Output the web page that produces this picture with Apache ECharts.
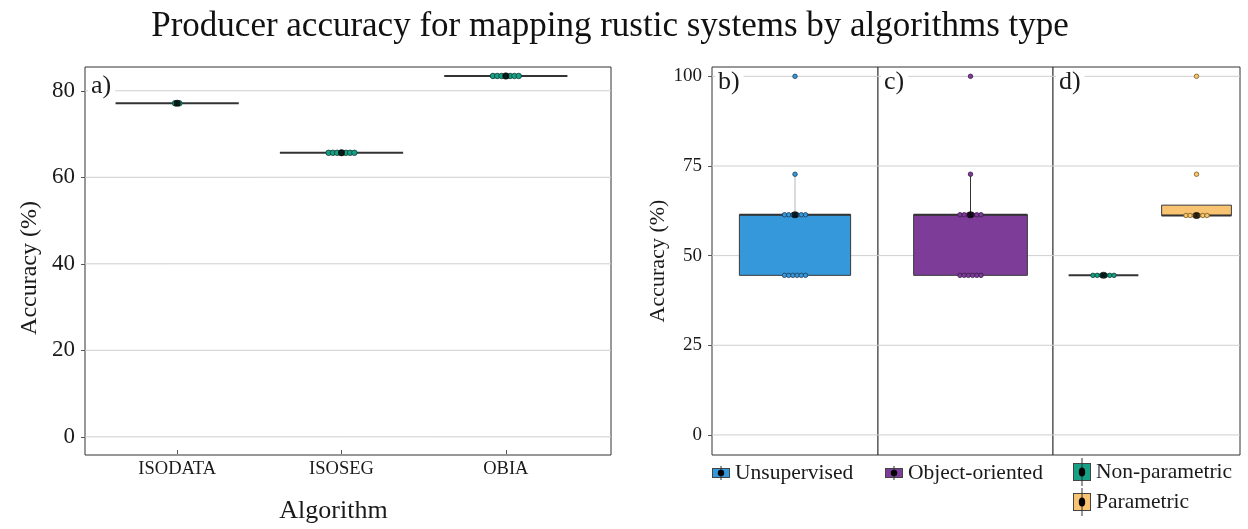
<!DOCTYPE html>
<html>
<head>
<meta charset="utf-8">
<script src="https://cdn.jsdelivr.net/npm/echarts@6/dist/echarts.min.js"></script>
<style>
  html, body { margin: 0; padding: 0; background: #fff; }
  #chart { width: 1248px; height: 529px; }
</style>
</head>
<body>
<div id="chart"></div>
<script>
// ---- data -------------------------------------------------------------
// Panel a: producer accuracy by algorithm
const algorithms = ['ISODATA', 'ISOSEG', 'OBIA'];
const isodataAcc = [77.0, 77.0];
const isosegAcc = [65.4, 65.4, 65.4, 65.4, 65.4, 65.4, 65.4];
const obiaAcc = [83.4, 83.4, 83.4, 83.4, 83.4, 83.4, 83.4];

// Panels b-d: producer accuracy by algorithm family
const unsupervisedAcc = [44.5, 44.5, 44.5, 44.5, 44.5, 44.5, 61.4, 61.4, 61.4, 61.4, 61.4, 61.4, 72.7, 100];
const objectOrientedAcc = [44.5, 44.5, 44.5, 44.5, 44.5, 44.5, 61.4, 61.4, 61.4, 61.4, 61.4, 61.4, 72.7, 100];
const nonParametricAcc = [44.5, 44.5, 44.5, 44.5, 44.5, 44.5];
const parametricAcc = [61.2, 61.2, 61.2, 61.2, 61.2, 61.2, 72.7, 100];

// Tick labels
const ticksLeft = [0, 20, 40, 60, 80];
const ticksRight = [0, 25, 50, 75, 100];

// ---- styling ------------------------------------------------------------
const FONT = '"Liberation Serif", "Times New Roman", serif';
const INK = '#1a1a1a';
const COLORS = {
  unsupervised: '#3498DB',
  objectOriented: '#7D3C98',
  nonParametric: '#16A085',
  parametric: '#F8C471'
};
const TOP = 67, HEIGHT = 388;

// ---- statistics ---------------------------------------------------------
function quantile(sorted, p) {
  const h = (sorted.length - 1) * p;
  const lo = Math.floor(h), hi = Math.ceil(h);
  return sorted[lo] + (h - lo) * (sorted[hi] - sorted[lo]);
}
function boxStats(vals) {
  const s = vals.slice().sort((a, b) => a - b);
  const q1 = quantile(s, 0.25), med = quantile(s, 0.5), q3 = quantile(s, 0.75);
  const iqr = q3 - q1;
  const lo = s.find(v => v >= q1 - 1.5 * iqr);
  const hi = s.slice().reverse().find(v => v <= q3 + 1.5 * iqr);
  return { lo, q1, med, q3, hi };
}
// Spread tied values side by side (beeswarm-like), offsets in pixels
function swarm(vals, cat, spacing) {
  const counts = {};
  vals.forEach(v => { counts[v] = (counts[v] || 0) + 1; });
  const seen = {};
  return vals.map(v => {
    seen[v] = seen[v] === undefined ? 0 : seen[v] + 1;
    const off = (seen[v] - (counts[v] - 1) / 2) * spacing;
    return { value: [cat, v], symbolOffset: [off, 0] };
  });
}

// ---- panel layout ---------------------------------------------------------
// frame = bordered plotting panel, inner = band area that holds the categories
const panels = [
  { label: 'a)', labelTop: 73, frame: [85, 526], inner: [95, 493], yMin: -4.2, yMax: 85.5, ticks: ticksLeft, axis: true, cats: algorithms },
  { label: 'b)', labelTop: 69, frame: [712, 166], inner: [712, 166], yMin: -5.6, yMax: 102.6, ticks: ticksRight, axis: true, cats: ['Unsupervised'] },
  { label: 'c)', labelTop: 69, frame: [878, 175], inner: [883, 175], yMin: -5.6, yMax: 102.6, ticks: ticksRight, axis: false, cats: ['Object-oriented'] },
  { label: 'd)', labelTop: 69, frame: [1053, 187], inner: [1057, 186], yMin: -5.6, yMax: 102.6, ticks: ticksRight, axis: false, cats: ['Non-parametric', 'Parametric'] }
];

const grid = [], xAxis = [], yAxis = [], series = [], titles = [];
panels.forEach((p, i) => {
  const fi = i * 2, di = i * 2 + 1;
  grid.push({ left: p.frame[0], top: TOP, width: p.frame[1], height: HEIGHT, show: true,
              borderColor: '#333', borderWidth: 1, backgroundColor: '#fff' });
  grid.push({ left: p.inner[0], top: TOP, width: p.inner[1], height: HEIGHT, show: false });

  xAxis.push({ gridIndex: fi, type: 'value', min: 0, max: 1, show: false });
  xAxis.push({
    gridIndex: di, type: 'category', data: p.cats, position: 'bottom',
    show: i === 0,
    axisLine: { show: false, onZero: false },
    axisTick: { show: i === 0, alignWithLabel: true, length: 4, lineStyle: { color: '#555' } },
    axisLabel: { show: i === 0, fontFamily: FONT, fontSize: 18.5, color: INK, margin: 10 },
    name: i === 0 ? 'Algorithm' : '', nameLocation: 'middle', nameGap: 48,
    nameTextStyle: { fontFamily: FONT, fontSize: 26, color: INK, padding: [0, 16, 0, 0] }
  });

  yAxis.push({
    gridIndex: fi, type: 'value', min: p.yMin, max: p.yMax,
    axisLine: { show: false },
    splitLine: { show: false },
    axisTick: { show: p.axis, customValues: p.ticks, length: 4, lineStyle: { color: '#555' } },
    axisLabel: { show: p.axis, customValues: p.ticks, fontFamily: FONT,
                 fontSize: i === 0 ? 23 : 19, color: INK, margin: 10 },
    name: p.axis ? 'Accuracy (%)' : '', nameLocation: 'middle', nameGap: i === 0 ? 43 : 41,
    nameTextStyle: { fontFamily: FONT, fontSize: i === 0 ? 24 : 22, color: INK,
                     padding: i === 0 ? [0, 14, 0, 0] : [0, 0, 0, 0] }
  });
  yAxis.push({ gridIndex: di, type: 'value', min: p.yMin, max: p.yMax, show: false });

  // horizontal reference lines across the whole panel
  series.push({
    type: 'custom', xAxisIndex: fi, yAxisIndex: fi, z: 1, silent: true,
    data: p.ticks.map(v => [0, v]),
    renderItem: (params, api) => {
      const y = api.coord([0, api.value(1)])[1];
      const cs = params.coordSys;
      return { type: 'line', shape: { x1: cs.x, y1: y, x2: cs.x + cs.width, y2: y },
               style: { stroke: '#cfcfcf', lineWidth: 1 } };
    }
  });

  titles.push({
    text: p.label, left: p.frame[0] + 3, top: p.labelTop, padding: [0, 4, 0, 3],
    backgroundColor: '#fff',
    textStyle: { fontFamily: FONT, fontSize: 26, fontWeight: 'normal', color: INK }
  });
});

// Box drawn ggplot-style: box, thick median, whisker lines without caps
function boxSeries(axisIdx, items, widthFrac, whiskerColor) {
  return {
    type: 'custom', xAxisIndex: axisIdx, yAxisIndex: axisIdx, z: 2, silent: true,
    encode: { x: 0, y: [1, 2, 3, 4, 5] },
    data: items.map(it => ({
      value: [it.cat, it.s.lo, it.s.q1, it.s.med, it.s.q3, it.s.hi],
      itemStyle: { color: it.color }
    })),
    renderItem: (params, api) => {
      const x = api.value(0);
      const bw = api.size([1, 0])[0] * widthFrac;
      const pLo = api.coord([x, api.value(1)]);
      const pQ1 = api.coord([x, api.value(2)]);
      const pMed = api.coord([x, api.value(3)]);
      const pQ3 = api.coord([x, api.value(4)]);
      const pHi = api.coord([x, api.value(5)]);
      const cx = pMed[0];
      const children = [];
      if (pHi[1] < pQ3[1] - 0.5) children.push({ type: 'line',
        shape: { x1: cx, y1: pHi[1], x2: cx, y2: pQ3[1] }, style: { stroke: whiskerColor, lineWidth: 1 } });
      if (pLo[1] > pQ1[1] + 0.5) children.push({ type: 'line',
        shape: { x1: cx, y1: pQ1[1], x2: cx, y2: pLo[1] }, style: { stroke: whiskerColor, lineWidth: 1 } });
      if (pQ1[1] - pQ3[1] > 0.5) children.push({ type: 'rect',
        shape: { x: cx - bw / 2, y: pQ3[1], width: bw, height: pQ1[1] - pQ3[1] },
        style: { fill: api.visual('color'), stroke: '#3a3a3a', lineWidth: 1 } });
      children.push({ type: 'line',
        shape: { x1: cx - bw / 2, y1: pMed[1], x2: cx + bw / 2, y2: pMed[1] },
        style: { stroke: '#333', lineWidth: 2 } });
      return { type: 'group', children };
    }
  };
}

function pointSeries(name, axisIdx, data, color, size, border) {
  return {
    name, type: 'scatter', xAxisIndex: axisIdx, yAxisIndex: axisIdx, z: 3, silent: true,
    symbol: 'circle', symbolSize: size, data,
    itemStyle: { color, borderColor: border, borderWidth: 0.8, opacity: 1 }
  };
}
function medianSeries(axisIdx, items) {
  return {
    type: 'scatter', xAxisIndex: axisIdx, yAxisIndex: axisIdx, z: 4, silent: true,
    symbol: 'circle', symbolSize: 7,
    data: items.map(it => [it.cat, boxStats(it.vals).med]),
    itemStyle: { color: '#000' }
  };
}

// panel a
const aItems = [isodataAcc, isosegAcc, obiaAcc].map((vals, k) => ({ cat: k, vals, s: boxStats(vals), color: COLORS.nonParametric }));
series.push(boxSeries(1, aItems, 0.75, '#333'));
series.push(pointSeries('Algorithm', 1,
  [].concat(...aItems.map(it => swarm(it.vals, it.cat, 4.3))), COLORS.nonParametric, 5.5, '#0b3b30'));
series.push(medianSeries(1, aItems));

// panel b
const bItems = [{ cat: 0, vals: unsupervisedAcc, s: boxStats(unsupervisedAcc), color: COLORS.unsupervised }];
series.push(boxSeries(3, bItems, 0.67, '#b5b5b5'));
series.push(pointSeries('Unsupervised', 3, swarm(unsupervisedAcc, 0, 4.2), COLORS.unsupervised, 4.5, '#1f3b57'));
series.push(medianSeries(3, bItems));

// panel c
const cItems = [{ cat: 0, vals: objectOrientedAcc, s: boxStats(objectOrientedAcc), color: COLORS.objectOriented }];
series.push(boxSeries(5, cItems, 0.65, '#333'));
series.push(pointSeries('Object-oriented', 5, swarm(objectOrientedAcc, 0, 4.2), COLORS.objectOriented, 4.5, '#3b1a4a'));
series.push(medianSeries(5, cItems));

// panel d
const dItems = [
  { cat: 0, vals: nonParametricAcc, s: boxStats(nonParametricAcc), color: COLORS.nonParametric },
  { cat: 1, vals: parametricAcc, s: boxStats(parametricAcc), color: COLORS.parametric }
];
series.push(boxSeries(7, dItems, 0.75, '#333'));
series.push(pointSeries('Non-parametric', 7, swarm(nonParametricAcc, 0, 4.2), COLORS.nonParametric, 4.5, '#0b3b30'));
series.push(pointSeries('Parametric', 7, swarm(parametricAcc, 1, 4.2), COLORS.parametric, 4.5, '#7a5a20'));
series.push(medianSeries(7, dItems));

// ---- legend keys: box with black point and range line ----------------------
function keyIcon(fill, tall) {
  const w = 18, h = tall ? 28 : 20;
  const rh = tall ? 17 : 9;
  const ry = (h - rh) / 2;
  const svg = `<svg xmlns="http://www.w3.org/2000/svg" width="${w}" height="${h}" viewBox="0 0 ${w} ${h}">` +
    `<rect x="0.5" y="${ry}" width="17" height="${rh}" fill="${fill}" stroke="#444" stroke-width="1"/>` +
    `<line x1="9" y1="${tall ? 0 : 3}" x2="9" y2="${tall ? h : h - 3}" stroke="#333" stroke-width="1"/>` +
    `<ellipse cx="9" cy="${h / 2}" rx="3.2" ry="${tall ? 4.5 : 3.2}" fill="#000"/>` +
    `</svg>`;
  return 'image://data:image/svg+xml;charset=utf-8,' + encodeURIComponent(svg);
}
const legendText = { fontFamily: FONT, fontSize: 21.5, color: INK };
const legend = [
  { left: 707, top: 457, itemWidth: 18, itemHeight: 20, itemGap: 4, selectedMode: false,
    textStyle: legendText, data: [{ name: 'Unsupervised', icon: keyIcon(COLORS.unsupervised, false) }] },
  { left: 880, top: 457, itemWidth: 18, itemHeight: 20, itemGap: 4, selectedMode: false,
    textStyle: legendText, data: [{ name: 'Object-oriented', icon: keyIcon(COLORS.objectOriented, false) }] },
  { left: 1068, top: 453, orient: 'vertical', itemWidth: 18, itemHeight: 28, itemGap: 2, selectedMode: false,
    textStyle: legendText,
    data: [{ name: 'Non-parametric', icon: keyIcon(COLORS.nonParametric, true) },
           { name: 'Parametric', icon: keyIcon(COLORS.parametric, true) }] }
];

const chart = echarts.init(document.getElementById('chart'), null, { renderer: 'canvas' });
chart.setOption({
  animation: false,
  backgroundColor: '#fff',
  title: titles,
  legend,
  grid, xAxis, yAxis, series,
  graphic: [{
    type: 'text', x: 610, y: 9,
    style: {
      text: 'Producer accuracy for mapping rustic systems by algorithms type',
      fontFamily: FONT, fontSize: 35, fill: '#111',
      textAlign: 'center', textVerticalAlign: 'top'
    }
  }]
});
</script>
</body>
</html>
